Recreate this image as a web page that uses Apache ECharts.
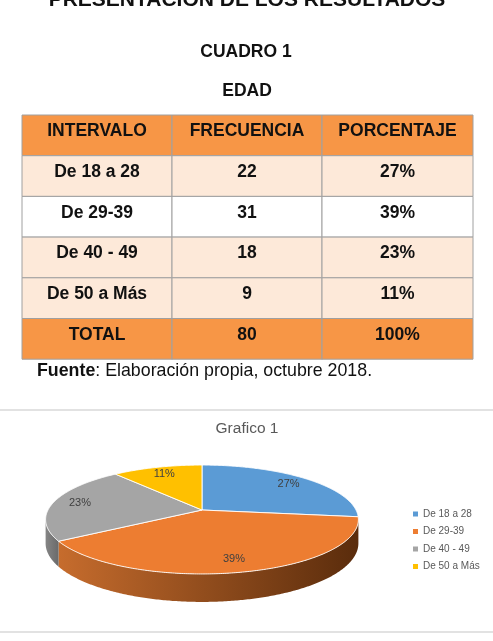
<!DOCTYPE html>
<html>
<head>
<meta charset="utf-8">
<script src="https://cdn.jsdelivr.net/npm/echarts@6/dist/echarts.min.js"></script>
<style>
  html, body { margin: 0; padding: 0; background: #ffffff; }
  #main { width: 493px; height: 641px; }
</style>
</head>
<body>
<div id="main"></div>
<script>
// ---------------- DATA ----------------
const pageTitle = 'PRESENTACIÓN DE LOS RESULTADOS';
const tableTitle = 'CUADRO 1';
const tableSubtitle = 'EDAD';
const headers = ['INTERVALO', 'FRECUENCIA', 'PORCENTAJE'];
const categories = ['De 18 a 28', 'De 29-39', 'De 40 - 49', 'De 50 a Más'];
const frequencies = [22, 31, 18, 9];
const percentages = [27, 39, 23, 11];
const totalLabel = 'TOTAL';
const totalFrequency = 80;
const totalPercentage = 100;
const sourceBold = 'Fuente';
const sourceRest = ': Elaboración propia, octubre 2018.';
const chartTitle = 'Grafico 1';

// ---------------- STYLE ----------------
const FONT = '"Liberation Sans", Arial, sans-serif';
const sliceColors = ['#5B9BD5', '#ED7D31', '#A5A5A5', '#FFC000'];
const sideColors = [
  ['#3f74a6', '#2a4f73'],
  ['#c66c2d', '#5a2c0c'],
  ['#858585', '#6a6a6a'],
  ['#c79600', '#8a6700']
];
const headerFill = '#F79646';
const rowFills = ['#FDE9D9', '#FFFFFF', '#FDE9D9', '#FDE9D9'];
const totalFill = '#F79646';
const gridColor = '#a0a0a0';

// table layout
const colX = [22, 172, 322, 473];
const tableTop = 115;
const rowH = 40.7;

const chart = echarts.init(document.getElementById('main'), null, { renderer: 'canvas' });

const graphics = [];
function addText(x, y, text, size, weight, align, color) {
  graphics.push({
    type: 'text', x: x, y: y, z: 10,
    style: {
      text: text, fontSize: size, fontWeight: weight, fontFamily: FONT,
      fill: color || '#111111', align: align || 'center', verticalAlign: 'middle'
    }
  });
}

addText(247, 0, pageTitle, 21, 'bold');
addText(246, 52.5, tableTitle, 17.5, 'bold');
addText(247, 91.5, tableSubtitle, 17.5, 'bold');

// build table rows from arrays
const tableRows = [headers];
categories.forEach((c, i) => tableRows.push([c, String(frequencies[i]), percentages[i] + '%']));
tableRows.push([totalLabel, String(totalFrequency), totalPercentage + '%']);
const fills = [headerFill].concat(rowFills).concat([totalFill]);

tableRows.forEach((row, r) => {
  const y0 = tableTop + r * rowH;
  row.forEach((cell, c) => {
    graphics.push({
      type: 'rect', z: 5,
      shape: { x: colX[c], y: y0, width: colX[c + 1] - colX[c], height: rowH },
      style: { fill: fills[r], stroke: gridColor, lineWidth: 1 }
    });
    addText((colX[c] + colX[c + 1]) / 2, y0 + 16.5, cell, 17.5, 'bold');
  });
});

// source note
graphics.push({
  type: 'text', x: 37, y: 371, z: 10,
  style: {
    text: '{b|' + sourceBold + '}' + sourceRest,
    fontSize: 17.8, fontFamily: FONT, fill: '#111111', verticalAlign: 'middle',
    rich: { b: { fontSize: 17.8, fontFamily: FONT, fontWeight: 'bold', fill: '#111111' } }
  }
});

// chart frame lines
[410, 632].forEach(y => graphics.push({
  type: 'line', z: 1,
  shape: { x1: 0, y1: y, x2: 493, y2: y },
  style: { stroke: '#d9d9d9', lineWidth: 1.5 }
}));
addText(247, 429, chartTitle, 15.5, 'normal', 'center', '#595959');

// ---------------- 3D PIE (custom series) ----------------
const CX = 202, CY = 510, RA = 154, RB = 52.8, K = 0.1743, DEPTH = 23.1;
function proj(t, f) {
  const u = f * Math.sin(t), v = f * Math.cos(t), d = 1 + K * v;
  return [CX + RA * u / d, CY - RB * v / d];
}
function depthAt(t) { return DEPTH / (1 + K * Math.cos(t)); }
const visStart = Math.acos(-K), visEnd = 2 * Math.PI - Math.acos(-K);

function arcPoints(a, b) {
  const n = Math.max(2, Math.ceil((b - a) / 0.01));
  const pts = [];
  for (let j = 0; j <= n; j++) pts.push(proj(a + (b - a) * j / n, 1));
  return pts;
}

function makeRender(idx) {
  return function (params, api) {
    const s = api.value(0) / 100 * 2 * Math.PI;
    const e = api.value(1) / 100 * 2 * Math.PI;
    const pct = api.value(2);
    const children = [];
    // outer wall
    const a = Math.max(s, visStart), b = Math.min(e, visEnd);
    if (a < b) {
      const n = Math.max(2, Math.ceil((b - a) / 0.01));
      const topPts = [], botPts = [];
      for (let j = 0; j <= n; j++) {
        const t = a + (b - a) * j / n;
        const p = proj(t, 1);
        topPts.push(p);
        botPts.push([p[0], p[1] + depthAt(t)]);
      }
      children.push({
        type: 'polygon', z2: 1,
        shape: { points: topPts.concat(botPts.reverse()) },
        style: {
          fill: new echarts.graphic.LinearGradient(0, 0, 1, 0, [
            { offset: 0, color: sideColors[idx][0] },
            { offset: 1, color: sideColors[idx][1] }
          ]),
          stroke: null
        }
      });
    }
    // top face
    const topFace = [proj(0, 0)].concat(arcPoints(s, e));
    children.push({
      type: 'polygon', z2: 5,
      shape: { points: topFace },
      style: { fill: sliceColors[idx], stroke: 'rgba(255,255,255,0.9)', lineWidth: 1 }
    });
    // label
    const m = (s + e) / 2;
    const lp = proj(m, 0.82);
    children.push({
      type: 'text', z2: 10,
      x: lp[0], y: lp[1],
      style: {
        text: pct + '%', fontSize: 11, fontFamily: FONT, fill: '#404040',
        align: 'center', verticalAlign: 'middle'
      }
    });
    return { type: 'group', children: children };
  };
}

let cum = 0;
const series = categories.map((name, i) => {
  const start = cum;
  cum += percentages[i];
  return {
    type: 'custom',
    name: name,
    coordinateSystem: 'none',
    itemStyle: { color: sliceColors[i] },
    renderItem: makeRender(i),
    data: [[start, cum, percentages[i]]],
    silent: true
  };
});

chart.setOption({
  animation: false,
  backgroundColor: '#ffffff',
  color: sliceColors,
  legend: {
    orient: 'vertical',
    left: 408, top: 503,
    itemWidth: 5, itemHeight: 5, itemGap: 5.5,
    icon: 'rect',
    selectedMode: false,
    data: categories,
    textStyle: { fontSize: 10, color: '#595959', fontFamily: FONT, lineHeight: 12 }
  },
  graphic: { elements: graphics },
  series: series
});
</script>
</body>
</html>
